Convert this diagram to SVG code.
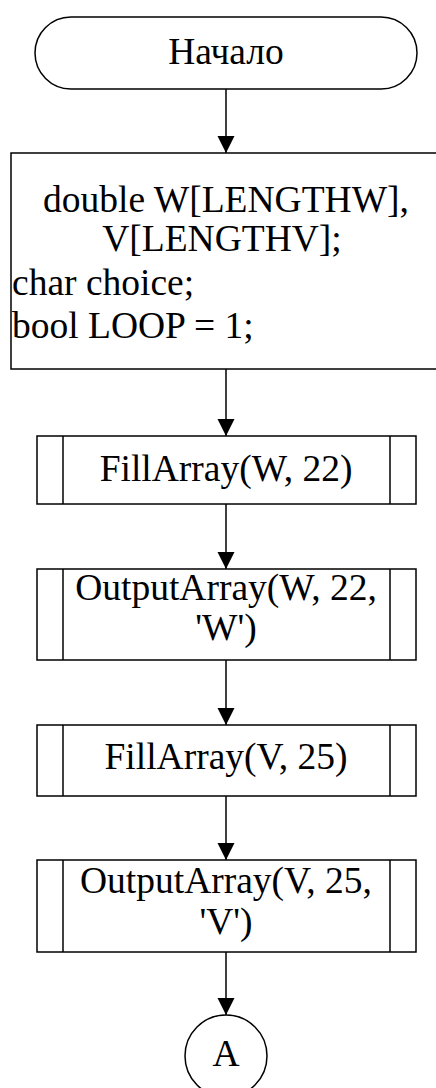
<svg xmlns="http://www.w3.org/2000/svg" width="436" height="1088" viewBox="0 0 436 1088">
  <style>
    .shape { fill: #ffffff; stroke: #000000; stroke-width: 1.5; }
    .edge { fill: none; stroke: #000000; stroke-width: 1.5; }
    .label { font-family: "Liberation Serif", "Times New Roman", serif; font-size: 37.5px; fill: #000000; }
    .mid { text-anchor: middle; }
  </style>
  <defs>
    <marker id="arrow" markerUnits="userSpaceOnUse" markerWidth="18" markerHeight="18" viewBox="0 0 18 18" refX="17" refY="9" orient="auto">
      <path d="M0,0.5 L17,9 L0,17.5 Z" fill="#000000"/>
    </marker>
  </defs>

  <rect x="0" y="0" width="436" height="1088" fill="#ffffff"/>

  <g id="connectors">
    <line class="edge" x1="226" y1="89" x2="226" y2="153" marker-end="url(#arrow)"/>
    <line class="edge" x1="226" y1="369" x2="226" y2="436" marker-end="url(#arrow)"/>
    <line class="edge" x1="226" y1="504" x2="226" y2="569" marker-end="url(#arrow)"/>
    <line class="edge" x1="226" y1="660" x2="226" y2="725" marker-end="url(#arrow)"/>
    <line class="edge" x1="226" y1="796" x2="226" y2="860" marker-end="url(#arrow)"/>
    <line class="edge" x1="226" y1="952" x2="226" y2="1015" marker-end="url(#arrow)"/>
  </g>

  <g id="start">
    <rect class="shape" x="35" y="17" width="382" height="72" rx="36" ry="36"/>
    <text class="label mid" x="226" y="64">Начало</text>
  </g>

  <g id="declarations">
    <rect class="shape" x="11" y="153" width="432" height="216"/>
    <text class="label mid" x="226" y="212">double W[LENGTHW],</text>
    <text class="label mid" x="222" y="251">V[LENGTHV];</text>
    <text class="label" x="12" y="295">char choice;</text>
    <text class="label" x="12" y="338">bool LOOP = 1;</text>
  </g>

  <g id="fill-w">
    <rect class="shape" x="37" y="436" width="379" height="68"/>
    <line class="edge" x1="63" y1="436" x2="63" y2="504"/>
    <line class="edge" x1="390" y1="436" x2="390" y2="504"/>
    <text class="label mid" x="226" y="481">FillArray(W, 22)</text>
  </g>

  <g id="output-w">
    <rect class="shape" x="37" y="569" width="379" height="91"/>
    <line class="edge" x1="63" y1="569" x2="63" y2="660"/>
    <line class="edge" x1="390" y1="569" x2="390" y2="660"/>
    <text class="label mid" x="226" y="600">OutputArray(W, 22,</text>
    <text class="label mid" x="226" y="640">'W')</text>
  </g>

  <g id="fill-v">
    <rect class="shape" x="37" y="725" width="379" height="71"/>
    <line class="edge" x1="63" y1="725" x2="63" y2="796"/>
    <line class="edge" x1="390" y1="725" x2="390" y2="796"/>
    <text class="label mid" x="226" y="769">FillArray(V, 25)</text>
  </g>

  <g id="output-v">
    <rect class="shape" x="37" y="860" width="379" height="92"/>
    <line class="edge" x1="63" y1="860" x2="63" y2="952"/>
    <line class="edge" x1="390" y1="860" x2="390" y2="952"/>
    <text class="label mid" x="226" y="893">OutputArray(V, 25,</text>
    <text class="label mid" x="226" y="934">'V')</text>
  </g>

  <g id="connector-a">
    <circle class="shape" cx="226" cy="1056" r="41"/>
    <text class="label mid" x="226" y="1066">A</text>
  </g>
</svg>
